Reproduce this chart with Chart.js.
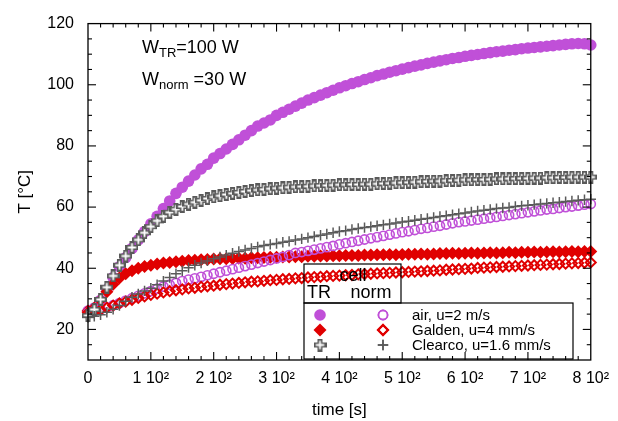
<!DOCTYPE html>
<html>
<head>
<meta charset="utf-8">
<script src="https://cdn.jsdelivr.net/npm/chart.js@4"></script>
<style>
  body { margin: 0; background: #fff; }
  #wrap { width: 618px; height: 421px; }
</style>
</head>
<body>
<div id="wrap"><canvas id="tempChart" width="618" height="421"></canvas></div>
<script>
// time [s]
const times = [0, 10, 20, 30, 40, 50, 60, 70, 80, 90,
  100, 110, 120, 130, 140, 150, 160, 170, 180, 190,
  200, 210, 220, 230, 240, 250, 260, 270, 280, 290,
  300, 310, 320, 330, 340, 350, 360, 370, 380, 390,
  400, 410, 420, 430, 440, 450, 460, 470, 480, 490,
  500, 510, 520, 530, 540, 550, 560, 570, 580, 590,
  600, 610, 620, 630, 640, 650, 660, 670, 680, 690,
  700, 710, 720, 730, 740, 750, 760, 770, 780, 790, 800];

// T [°C], TR cell
const airTR = [26, 27, 29.5, 33, 37, 40.5, 43.5, 46.5, 49.3, 52,
  54.5, 57, 59.5, 62, 64.5, 66.5, 68.5, 70.5, 72.5, 74,
  76, 77.5, 79, 80.5, 82, 83.5, 85, 86.5, 87.5, 88.5,
  90, 91, 92, 93, 94, 95, 95.8, 96.6, 97.4, 98.2,
  99, 99.7, 100.4, 101, 101.7, 102.3, 103, 103.5, 104.1, 104.6,
  105.1, 105.6, 106.1, 106.5, 107, 107.4, 107.8, 108.2, 108.6, 108.9,
  109.3, 109.6, 109.9, 110.2, 110.5, 110.8, 111, 111.3, 111.5, 111.8,
  112, 112.2, 112.4, 112.6, 112.8, 113, 113.2, 113.4, 113.5, 113.4, 113];
const galdenTR = [26, 27, 29.5, 32.3, 34.8, 36.8, 38.2, 39.2, 40, 40.6,
  41, 41.4, 41.7, 41.9, 42.1, 42.3, 42.5, 42.6, 42.8, 42.9,
  43, 43.1, 43.1, 43.2, 43.3, 43.3, 43.4, 43.4, 43.5, 43.6,
  43.6, 43.7, 43.7, 43.8, 43.8, 43.9, 43.9, 44, 44, 44.1,
  44.1, 44.2, 44.2, 44.2, 44.3, 44.3, 44.4, 44.4, 44.5, 44.4,
  44.5, 44.6, 44.6, 44.7, 44.6, 44.7, 44.8, 44.8, 44.9, 44.8,
  44.9, 45, 44.9, 45, 45.1, 45, 45.1, 45.2, 45.1, 45.2,
  45.2, 45.3, 45.2, 45.3, 45.4, 45.3, 45.4, 45.5, 45.4, 45.5, 45.5];
const clearcoTR = [24.5, 26.5, 29.8, 33.8, 37.5, 41, 44, 46.8, 49.3, 51.6,
  53.6, 55.5, 57, 58.3, 59.3, 60.2, 61, 61.6, 62.2, 62.8,
  63.3, 63.7, 64.1, 64.5, 64.8, 65.1, 65.4, 65.6, 65.8, 66,
  66.2, 66.3, 66.5, 66.6, 66.7, 66.8, 66.9, 67, 67.1, 67.2,
  67.3, 67.3, 67.4, 67.4, 67.5, 67.5, 67.6, 67.7, 67.8, 67.9,
  68, 68.1, 68.2, 68.3, 68.4, 68.5, 68.5, 68.6, 68.7, 68.8,
  68.9, 68.9, 69, 69, 69.1, 69.2, 69.2, 69.3, 69.3, 69.4,
  69.4, 69.5, 69.5, 69.6, 69.6, 69.7, 69.7, 69.8, 69.8, 69.8, 69.8];

// T [°C], norm cell
const airNorm = [25.5, 26, 26.6, 27.2, 27.9, 28.6, 29.4, 30.2, 31, 31.8,
  32.5, 33.3, 34, 34.6, 35.2, 35.8, 36.3, 36.7, 37.2, 37.7,
  38.2, 38.7, 39.2, 39.7, 40.2, 40.7, 41.2, 41.7, 42.2, 42.7,
  43.2, 43.7, 44.3, 45, 45.3, 45.7, 46.1, 46.5, 46.9, 47.3,
  47.8, 48.2, 48.6, 49, 49.4, 49.8, 50.2, 50.6, 51, 51.4,
  51.8, 52.1, 52.5, 52.9, 53.2, 53.6, 53.9, 54.3, 54.7, 55.1,
  55.3, 55.6, 55.9, 56.2, 56.5, 56.8, 57.1, 57.4, 57.7, 58,
  58.3, 58.6, 58.9, 59.2, 59.4, 59.7, 60, 60.2, 60.5, 60.8, 61];
const galdenNorm = [25.5, 25.8, 26.4, 27.1, 27.8, 28.5, 29.1, 29.7, 30.3, 30.8,
  31.3, 31.7, 32.1, 32.5, 32.8, 33.1, 33.4, 33.6, 33.9, 34.1,
  34.3, 34.6, 34.8, 35, 35.2, 35.4, 35.6, 35.7, 35.9, 36.1,
  36.2, 36.4, 36.5, 36.7, 36.8, 37, 37.1, 37.2, 37.4, 37.5,
  37.6, 37.7, 37.8, 38, 38.1, 38.2, 38.3, 38.4, 38.5, 38.6,
  38.7, 38.8, 38.9, 39, 39.1, 39.2, 39.3, 39.5, 39.6, 39.7,
  39.8, 39.9, 40.1, 40.2, 40.3, 40.4, 40.5, 40.6, 40.7, 40.8,
  40.9, 41, 41.1, 41.2, 41.3, 41.4, 41.5, 41.6, 41.7, 41.8, 41.9];
const clearcoNorm = [24, 24.3, 24.8, 25.6, 26.6, 27.8, 29.2, 30.5, 31.6, 32.6,
  33.5, 34.6, 35.8, 37, 38.2, 39.2, 40.2, 41, 41.7, 42.4,
  43.1, 43.7, 44.3, 44.9, 45.5, 46, 46.5, 47, 47.4, 47.8,
  48.1, 48.5, 48.8, 49.2, 49.6, 50, 50.4, 50.8, 51.2, 51.6,
  52, 52.3, 52.7, 53, 53.3, 53.6, 53.9, 54.2, 54.5, 54.8,
  55.1, 55.4, 55.7, 56, 56.3, 56.6, 56.9, 57.2, 57.5, 57.8,
  58.1, 58.4, 58.7, 59, 59.2, 59.5, 59.7, 59.9, 60.2, 60.4,
  60.6, 60.8, 61, 61.2, 61.4, 61.6, 61.8, 62, 62.2, 62.4, 62.6];

const xTickLabels = ["0", "1 10²", "2 10²", "3 10²", "4 10²", "5 10²", "6 10²", "7 10²", "8 10²"];
const yTicks = [20, 40, 60, 80, 100, 120];
const legendLabels = ["air, u=2 m/s", "Galden, u=4 mm/s", "Clearco, u=1.6 mm/s"];

const PURPLE = "#c050d8";
const RED = "#e00000";
const GRAY = "#5a5a5a";
const FONT = "'Liberation Sans', Arial, sans-serif";

Chart.defaults.font.family = FONT;
Chart.defaults.color = "#000";

// thick outlined plus for the Clearco TR points
const fatCross = document.createElement("canvas");
fatCross.width = 13;
fatCross.height = 13;
(function () {
  const c = fatCross.getContext("2d");
  c.lineCap = "square";
  c.strokeStyle = GRAY;
  c.lineWidth = 5;
  c.beginPath();
  c.moveTo(2.5, 6.5); c.lineTo(10.5, 6.5);
  c.moveTo(6.5, 2.5); c.lineTo(6.5, 10.5);
  c.stroke();
  c.strokeStyle = "#fff";
  c.lineWidth = 1.8;
  c.lineCap = "butt";
  c.beginPath();
  c.moveTo(2.3, 6.5); c.lineTo(10.7, 6.5);
  c.moveTo(6.5, 2.3); c.lineTo(6.5, 10.7);
  c.stroke();
})();

function pts(arr) {
  return times.map((t, i) => ({ x: t, y: arr[i] }));
}

const datasets = [
  { label: "air TR", data: pts(airTR), pointStyle: "circle", pointRadius: 5.8,
    backgroundColor: PURPLE, borderColor: PURPLE, borderWidth: 0, order: 6 },
  { label: "Galden TR", data: pts(galdenTR), pointStyle: "rectRot", pointRadius: 6.5,
    backgroundColor: RED, borderColor: RED, borderWidth: 0, order: 5 },
  { label: "air norm", data: pts(airNorm), pointStyle: "circle", pointRadius: 4.6,
    backgroundColor: "rgba(0,0,0,0)", borderColor: PURPLE, borderWidth: 1.6, order: 4 },
  { label: "Galden norm", data: pts(galdenNorm), pointStyle: "rectRot", pointRadius: 5,
    backgroundColor: "rgba(0,0,0,0)", borderColor: RED, borderWidth: 2, order: 3 },
  { label: "Clearco TR", data: pts(clearcoTR), pointStyle: fatCross, pointRadius: 6,
    backgroundColor: GRAY, borderColor: GRAY, borderWidth: 0, order: 2 },
  { label: "Clearco norm", data: pts(clearcoNorm), pointStyle: "cross", pointRadius: 5.2,
    backgroundColor: GRAY, borderColor: GRAY, borderWidth: 1.5, order: 1 },
];
datasets.forEach((d) => { d.clip = false; d.pointHoverRadius = d.pointRadius; });

function line(ctx, x1, y1, x2, y2) {
  ctx.beginPath();
  ctx.moveTo(x1, y1);
  ctx.lineTo(x2, y2);
  ctx.stroke();
}

// frame, inward ticks, notes, legend
const decorPlugin = {
  id: "decor",
  afterDatasetsDraw(chart) {
    const ctx = chart.ctx;
    const a = chart.chartArea;
    const xs = chart.scales.x, ys = chart.scales.y;
    ctx.save();
    ctx.strokeStyle = "#000";
    ctx.lineWidth = 1.3;
    ctx.strokeRect(a.left, a.top, a.right - a.left, a.bottom - a.top);
    ctx.lineWidth = 1.1;
    for (let v = 20; v < 800; v += 20) {
      const p = xs.getPixelForValue(v);
      const len = v % 100 === 0 ? 8 : 4;
      line(ctx, p, a.bottom, p, a.bottom - len);
      line(ctx, p, a.top, p, a.top + len);
    }
    for (let v = 15; v < 120; v += 5) {
      const p = ys.getPixelForValue(v);
      const len = v % 20 === 0 ? 8 : 4;
      line(ctx, a.left, p, a.left + len, p);
      line(ctx, a.right, p, a.right - len, p);
    }

    // axis titles
    ctx.fillStyle = "#000";
    ctx.font = "17px " + FONT;
    ctx.textAlign = "center";
    ctx.textBaseline = "middle";
    ctx.fillText("time [s]", (a.left + a.right) / 2, 410);
    ctx.save();
    ctx.translate(25, (a.top + a.bottom) / 2);
    ctx.rotate(-Math.PI / 2);
    ctx.fillText("T [°C]", 0, 0);
    ctx.restore();

    // power notes
    ctx.textAlign = "left";
    ctx.textBaseline = "alphabetic";
    function note(x, y, sub, rest) {
      ctx.font = "18px " + FONT;
      ctx.fillText("W", x, y);
      x += ctx.measureText("W").width;
      ctx.font = "13px " + FONT;
      ctx.fillText(sub, x, y + 4);
      x += ctx.measureText(sub).width;
      ctx.font = "18px " + FONT;
      ctx.fillText(rest, x, y);
    }
    note(142, 53, "TR", "=100 W");
    note(142, 85, "norm", " =30 W");

    // legend boxes
    ctx.lineWidth = 1.2;
    ctx.strokeRect(304, 264, 97, 39);
    ctx.strokeRect(304, 303, 269, 56);
    ctx.font = "18px " + FONT;
    ctx.textBaseline = "middle";
    ctx.textAlign = "center";
    ctx.fillText("cell", 353, 276);
    ctx.fillText("norm", 371, 293);
    ctx.textAlign = "left";
    ctx.fillText("TR", 307, 293);
    ctx.font = "15px " + FONT;
    const rows = [[0, 2], [1, 3], [4, 5]];
    rows.forEach((r, i) => {
      const y = 315 + i * 15;
      [320, 383].forEach((x, k) => {
        const d = chart.data.datasets[r[k]];
        ctx.fillStyle = d.backgroundColor;
        ctx.strokeStyle = d.borderColor;
        ctx.lineWidth = d.borderWidth;
        Chart.helpers.drawPoint(ctx, {
          pointStyle: d.pointStyle, radius: d.pointRadius, rotation: 0, borderWidth: d.borderWidth
        }, x, y);
        if (d.borderWidth > 0) ctx.stroke();
      });
      ctx.fillStyle = "#000";
      ctx.fillText(legendLabels[i], 412, y + 1);
    });
    ctx.restore();
  },
};

const tempChart = new Chart(document.getElementById("tempChart").getContext("2d"), {
  type: "scatter",
  data: { datasets: datasets },
  options: {
    responsive: false,
    animation: false,
    layout: { padding: { top: 19, right: 18, bottom: 0, left: 0 } },
    scales: {
      x: {
        type: "linear",
        min: 0,
        max: 800,
        afterFit: (s) => { s.height = 61; },
        grid: { display: false, drawTicks: false },
        border: { display: false },
        ticks: {
          stepSize: 100,
          padding: 9,
          maxRotation: 0,
          autoSkip: false,
          font: { size: 16 },
          color: "#000",
          callback: (v) => xTickLabels[v / 100],
        },
      },
      y: {
        min: 10,
        max: 120,
        afterFit: (s) => { s.width = 88; },
        afterBuildTicks: (s) => { s.ticks = yTicks.map((v) => ({ value: v })); },
        grid: { display: false, drawTicks: false },
        border: { display: false },
        ticks: { padding: 14, font: { size: 16 }, color: "#000" },
      },
    },
    plugins: {
      legend: { display: false },
      tooltip: { enabled: false },
    },
  },
  plugins: [decorPlugin],
});
</script>
</body>
</html>
